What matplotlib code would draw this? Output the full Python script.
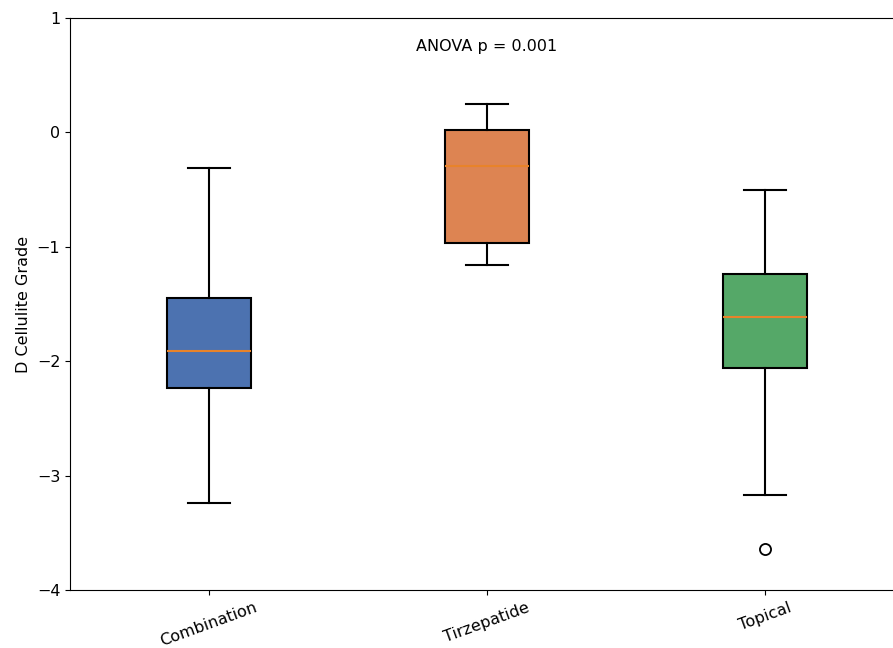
import matplotlib
matplotlib.use('Agg')
import matplotlib.pyplot as plt

groups = ['Combination', 'Tirzepatide', 'Topical']
whislo = [-3.24, -1.16, -3.17]
q1 = [-2.23, -0.97, -2.06]
med = [-1.91, -0.29, -1.61]
q3 = [-1.45, 0.02, -1.24]
whishi = [-0.31, 0.25, -0.50]
fliers = [[], [], [-3.64]]
colors = ['#4C72B0', '#DD8452', '#55A868']

stats = []
for i in range(len(groups)):
    stats.append(dict(label=groups[i], whislo=whislo[i], q1=q1[i], med=med[i],
                      q3=q3[i], whishi=whishi[i], fliers=fliers[i]))

fig = plt.figure(figsize=(8.93, 6.48), dpi=100)
ax = fig.add_axes([70/893, 1-590/648, 834/893, 572/648])

bp = ax.bxp(stats, positions=[1, 2, 3], widths=0.3, patch_artist=True,
            boxprops=dict(linewidth=1.5, edgecolor='black'),
            whiskerprops=dict(linewidth=1.5),
            capprops=dict(linewidth=1.5),
            medianprops=dict(color='#e8832a', linewidth=1.5),
            flierprops=dict(marker='o', markersize=8, markerfacecolor='white',
                            markeredgecolor='black', markeredgewidth=1.3))
for patch, c in zip(bp['boxes'], colors):
    patch.set_facecolor(c)

ax.set_xlim(0.5, 3.5)
ax.set_ylim(-4, 1)
ax.set_yticks([-4, -3, -2, -1, 0, 1])
ax.tick_params(axis='both', labelsize=11.5)
plt.setp(ax.get_xticklabels(), rotation=20)
ax.set_ylabel('D Cellulite Grade', fontsize=11.5)
ax.text(0.5, 0.95, 'ANOVA p = 0.001', transform=ax.transAxes,
        ha='center', va='center', fontsize=11.5)

fig.savefig('out.png', dpi=100)
